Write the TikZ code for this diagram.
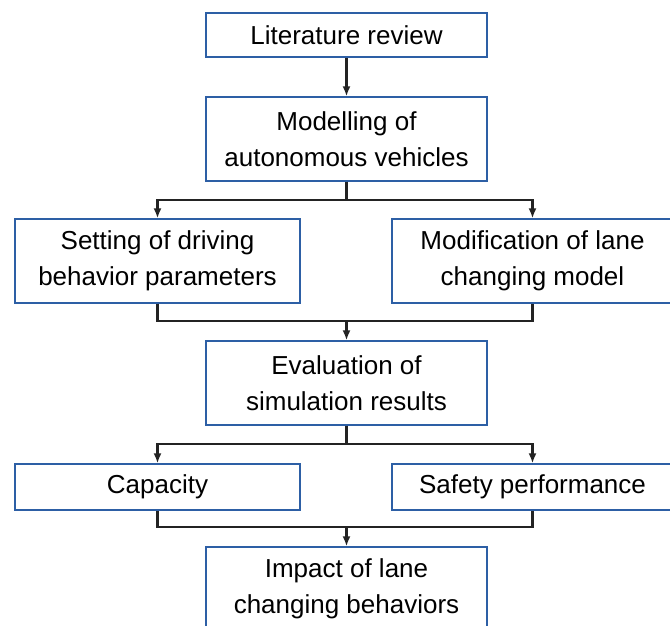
\documentclass[tikz,border=0pt]{standalone}
\usepackage{fontspec}
\setmainfont{Liberation Sans}
\usepackage{tikz}
\usetikzlibrary{arrows.meta}

\definecolor{boxblue}{RGB}{45,95,165}
\definecolor{linegray}{RGB}{35,35,35}

\tikzset{
  block/.style={draw=boxblue, line width=1.3bp, minimum width=281bp, align=center,
    inner sep=0pt, font=\fontsize{26bp}{36bp}\selectfont},
  tallblock/.style={block, minimum height=84bp},
  flatblock/.style={block, minimum height=46bp},
  link/.style={draw=linegray, line width=2.1bp}
}

\begin{document}
\begin{tikzpicture}[node distance=104bp, >={Latex[length=10bp,width=8bp]}]
      \useasboundingbox (0,0) rectangle (670bp,-626bp);

      \node [flatblock, minimum height=44bp] (lit) at (346.5bp,-35bp) {Literature review};
      \node [tallblock, below of=lit] (model) {Modelling of\\autonomous vehicles};
      \node [tallblock, below of=model, xshift=-189bp, yshift=-18bp, minimum width=285bp] (setting) {Setting of driving\\behavior parameters};
      \node [tallblock, below of=model, xshift=186bp, yshift=-18bp] (modif) {Modification of lane\\changing model};
      \node [tallblock, below of=model, yshift=-140bp] (eval) {Evaluation of\\simulation results};
      \node [flatblock, below of=eval, xshift=-189bp, minimum width=285bp] (cap) {Capacity};
      \node [flatblock, below of=eval, xshift=186bp] (safe) {Safety performance};
      \node [tallblock, below of=eval, yshift=-102bp] (impact) {Impact of lane\\changing behaviors};

      \coordinate (join1) at ([yshift=19bp]eval.north);
      \coordinate (join2) at ([yshift=19bp]impact.north);

      \draw[link,->] (lit) -- (model);
      \draw[link,->] (model.south) -- ++(0,-18bp) -| (setting.north);
      \draw[link,->] (model.south) -- ++(0,-18bp) -| (modif.north);
      \draw[link] (setting.south) |- (join1) -| (modif.south);
      \draw[link,->] (join1) -- (eval.north);
      \draw[link,->] (eval.south) -- ++(0,-18bp) -| (cap.north);
      \draw[link,->] (eval.south) -- ++(0,-18bp) -| (safe.north);
      \draw[link] (cap.south) |- (join2) -| (safe.south);
      \draw[link,->] (join2) -- (impact.north);
    \end{tikzpicture}
\end{document}
